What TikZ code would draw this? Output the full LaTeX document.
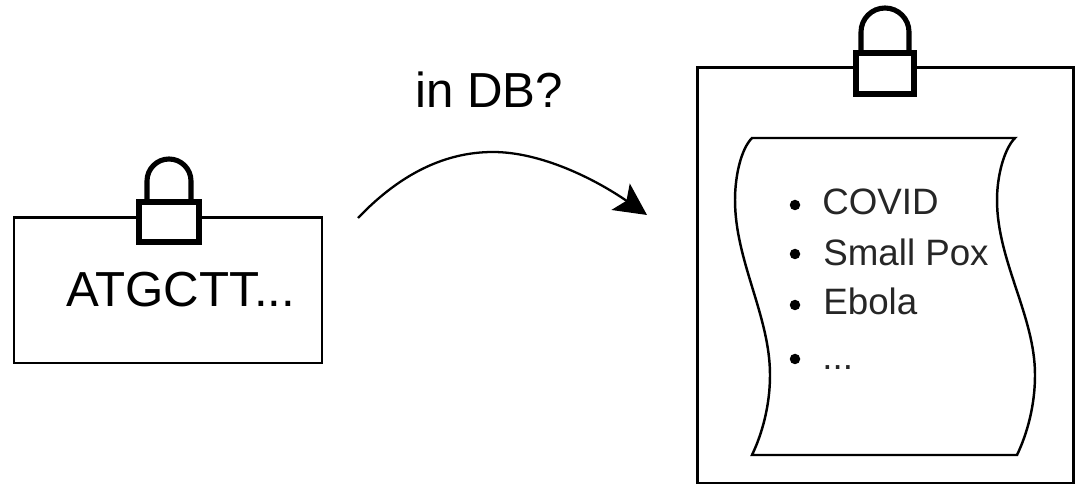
\documentclass[tikz,border=0pt]{standalone}
\usepackage{fontspec}
\setmainfont{Liberation Sans}
\usetikzlibrary{arrows.meta}
\tikzset{
  bigtext/.style={anchor=base west,inner sep=0pt,font=\fontsize{28}{30}\selectfont},
  listtext/.style={anchor=base west,inner sep=0pt,text=black!85,font=\fontsize{20.9}{24}\selectfont},
  listdot/.style={circle,fill=black,inner sep=0pt,minimum size=0.21cm},
  boxline/.style={line width=1.7pt},
  lockline/.style={line width=2.9pt},
  scrollline/.style={line width=1.4pt}
}
\begin{document}
\begin{tikzpicture}[x=0.02cm,y=0.02cm]
\useasboundingbox (0,0) rectangle (1081,486);

\draw [boxline] (14,123) rectangle (322,268);
\draw [lockline] (147,284) -- (147,305) arc (180:0:22) -- (191,284);
\draw [lockline,fill=white] (139,244) rectangle (199,284);
\node [bigtext] (seq) at (66,179) {ATGCTT...};

\coordinate (arrowstart) at (358,268);
\coordinate (arrowtop) at (493,334);
\coordinate (arrowend) at (647,271);
\draw [line width=1.3pt,-{Stealth[length=0.64cm,width=0.64cm,inset=0.14cm]}] (arrowstart) .. controls (400,312) and (445,334) .. (arrowtop) .. controls (541,334) and (595,307) .. (arrowend);
\node [bigtext] (query) at (415,378) {in DB?};

\draw [boxline] (697,3) rectangle (1073,418);
\draw [lockline] (861,433) -- (861,454) arc (180:0:24) -- (909,433);
\draw [lockline,fill=white] (856,392) rectangle (914,433);

\draw [scrollline] (752,348) -- (1015,348)
  .. controls (1004,337) and (997,310) .. (997,286)
  .. controls (997,225) and (1035,170) .. (1035,111)
  .. controls (1035,80) and (1027,52) .. (1017,31)
  -- (752,31)
  .. controls (762,52) and (770,80) .. (770,111)
  .. controls (770,170) and (735,225) .. (735,286)
  .. controls (735,310) and (741,337) .. cycle;

\node [listdot] (dot1) at (795,281) {};
\node [listdot] (dot2) at (795,232) {};
\node [listdot] (dot3) at (795,181) {};
\node [listdot] (dot4) at (795,127) {};
\node [listtext] (covid) at (822,271) {COVID};
\node [listtext] (pox) at (823,220) {Small Pox};
\node [listtext] (ebola) at (823,171) {Ebola};
\node [listtext] (more) at (822,116) {...};
\end{tikzpicture}
\end{document}
